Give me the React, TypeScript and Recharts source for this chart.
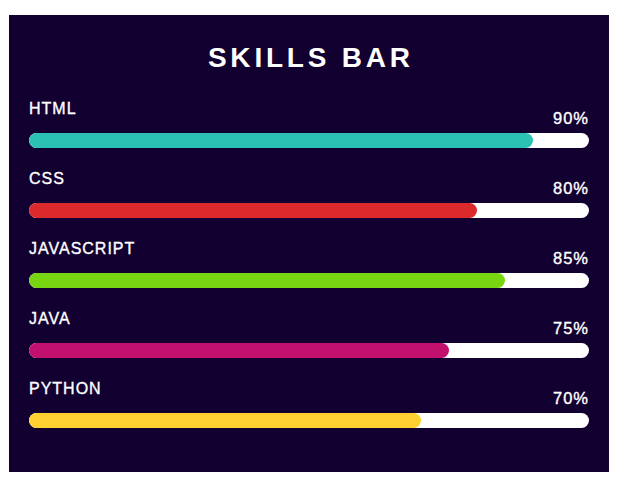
import React from "react";
import { BarChart, Bar, XAxis, YAxis, LabelList } from "recharts";

const skills = ["HTML", "CSS", "JAVASCRIPT", "JAVA", "PYTHON"];
const levels = [90, 80, 85, 75, 70];
const colors = ["#2cc2b3", "#dc2a2c", "#78d512", "#c2106e", "#ffd030"];

const data = skills.map((name, i) => ({ name, value: levels[i], color: colors[i] }));

const BG = "#120030";
const FONT = "'Liberation Sans', Arial, sans-serif";

const Track = (props: any) => {
  const { x, y, width, height, payload } = props;
  return (
    <g>
      <rect x={x} y={y} width={width} height={height} rx={height / 2} ry={height / 2} fill="#ffffff" />
      <text
        x={x + width}
        y={y - 9.5}
        textAnchor="end"
        fill="#ffffff"
        stroke="#ffffff"
        strokeWidth={0.35}
        fontSize={16.5}
        fontFamily={FONT}
        letterSpacing={1}
      >
        {`${payload?.value ?? ""}%`}
      </text>
    </g>
  );
};

const NameLabel = (props: any) => {
  const { x, y, value } = props;
  return (
    <text
      x={x}
      y={y - 19.5}
      fill="#ffffff"
      stroke="#ffffff"
      strokeWidth={0.35}
      fontSize={16}
      fontFamily={FONT}
      letterSpacing={1}
    >
      {value}
    </text>
  );
};

export default function App() {
  return (
    <div style={{ paddingTop: 7, paddingLeft: 1 }}>
      <div style={{ position: "relative", width: 600, height: 457, background: BG }}>
        <div
          style={{
            position: "absolute",
            top: 26,
            left: 0,
            width: 600,
            textAlign: "center",
            color: "#ffffff",
            fontFamily: FONT,
            fontSize: 28,
            fontWeight: 700,
            letterSpacing: 3.8,
            lineHeight: "34px",
            textIndent: 3.8,
          }}
        >
          SKILLS BAR
        </div>
        <BarChart
          width={600}
          height={457}
          data={data}
          layout="vertical"
          margin={{ top: 90, right: 20, bottom: 17, left: 20 }}
          barCategoryGap={0}
        >
          <XAxis type="number" domain={[0, 100]} hide />
          <YAxis type="category" dataKey="name" hide />
          <Bar
            dataKey="value"
            barSize={15}
            radius={7.5}
            background={Track}
            isAnimationActive={false}
            shape={(p: any) => (
              <rect x={p.x} y={p.y} width={p.width} height={p.height} rx={7.5} ry={7.5} fill={p.payload.color} />
            )}
          >
            <LabelList dataKey="name" content={NameLabel} />
          </Bar>
        </BarChart>
      </div>
    </div>
  );
}
